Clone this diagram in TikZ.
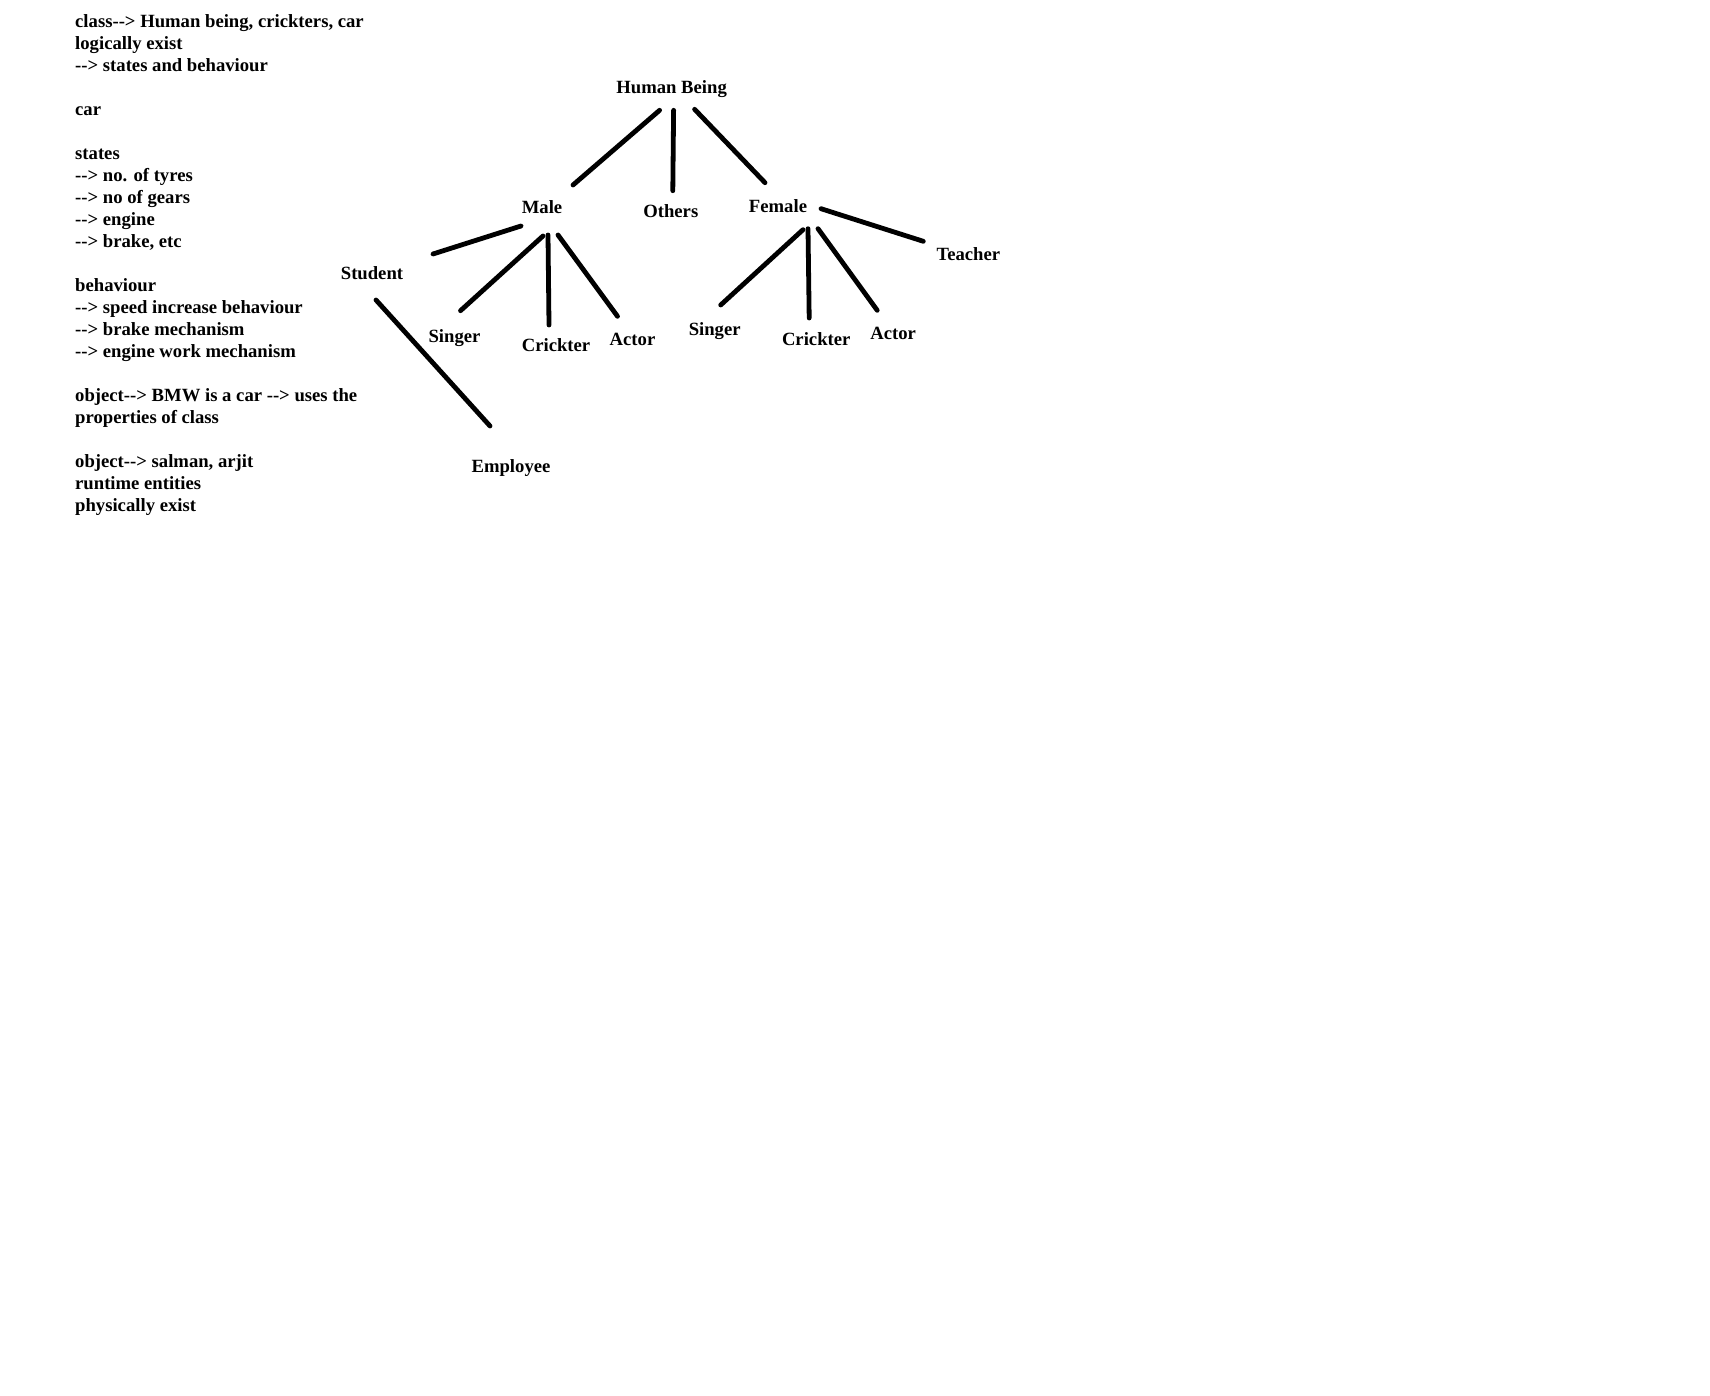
\documentclass[tikz,border=0pt]{standalone}
\usepackage{fontspec}
\setmainfont{Liberation Serif}
\usepackage{tikz}

\newcommand{\darrow}{-\kern0pt-\kern0pt>}

\begin{document}
\begin{tikzpicture}[
        x=1pt, y=-1pt,
        line width=4.8pt, line cap=round,
        word/.style={anchor=base, inner sep=0pt},
        every node/.style={font=\fontsize{18.67}{22}\selectfont\bfseries}
    ]
    \fill[white] (0,0) rectangle (1710,1396);
    \useasboundingbox (0,0) rectangle (1710,1396);

    % notes block, placed by the baseline of its last line
    \node[anchor=base west, inner sep=0pt, align=left] (notes) at (72.8,511.3) {%
        class\darrow{} Human being, crickters, car\\
        logically exist\\
        \darrow{} states and behaviour\\[22pt]
        car\\[22pt]
        states\\
        \darrow{} no. of tyres\\
        \darrow{} no of gears\\
        \darrow{} engine\\
        \darrow{} brake, etc\\[22pt]
        behaviour\\
        \darrow{} speed increase behaviour\\
        \darrow{} brake mechanism\\
        \darrow{} engine work mechanism\\[22pt]
        object\darrow{} BMW is a car \darrow{} uses the\\
        properties of class\\[22pt]
        object\darrow{} salman, arjit\\
        runtime entities\\
        physically exist};

    \node[word] (hb) at (671.6,93.3) {Human Being};
    \node[word] (male) at (542,214) {Male};
    \node[word] (others) at (670.8,217.7) {Others};
    \node[word] (female) at (778,212.7) {Female};
    \node[word] (student) at (372,280) {Student};
    \node[word] (employee) at (511,472) {Employee};
    \node[word] (msinger) at (454.5,342.7) {Singer};
    \node[word] (mcrick) at (556,352) {Crickter};
    \node[word] (mactor) at (632.5,345.3) {Actor};
    \node[word] (teacher) at (968.3,260.3) {Teacher};
    \node[word] (fsinger) at (714.7,336) {Singer};
    \node[word] (fcrick) at (816.2,346) {Crickter};
    \node[word] (factor) at (893.2,339.3) {Actor};

    \draw ([shift={(-12,17)}]hb.base) -- ([shift={(31,-29)}]male.base);
    \draw ([shift={(2,17)}]hb.base) -- ([shift={(2,-27)}]others.base);
    \draw ([shift={(23,16)}]hb.base) -- ([shift={(-13,-30)}]female.base);

    \draw ([shift={(-21,12)}]male.base) -- ([shift={(61,-26)}]student.base);
    \draw ([shift={(1,22)}]male.base) -- ([shift={(6,-32)}]msinger.base);
    \draw ([shift={(6,21)}]male.base) -- ([shift={(-7,-27)}]mcrick.base);
    \draw ([shift={(16,21)}]male.base) -- ([shift={(-15,-29)}]mactor.base);
    \draw ([shift={(4,20)}]student.base) -- ([shift={(-21,-46)}]employee.base);

    \draw ([shift={(43,-4)}]female.base) -- ([shift={(-45,-19)}]teacher.base);
    \draw ([shift={(25,17)}]female.base) -- ([shift={(6,-31)}]fsinger.base);
    \draw ([shift={(30,16)}]female.base) -- ([shift={(-7,-28)}]fcrick.base);
    \draw ([shift={(40,16)}]female.base) -- ([shift={(-16,-29)}]factor.base);
\end{tikzpicture}
\end{document}
